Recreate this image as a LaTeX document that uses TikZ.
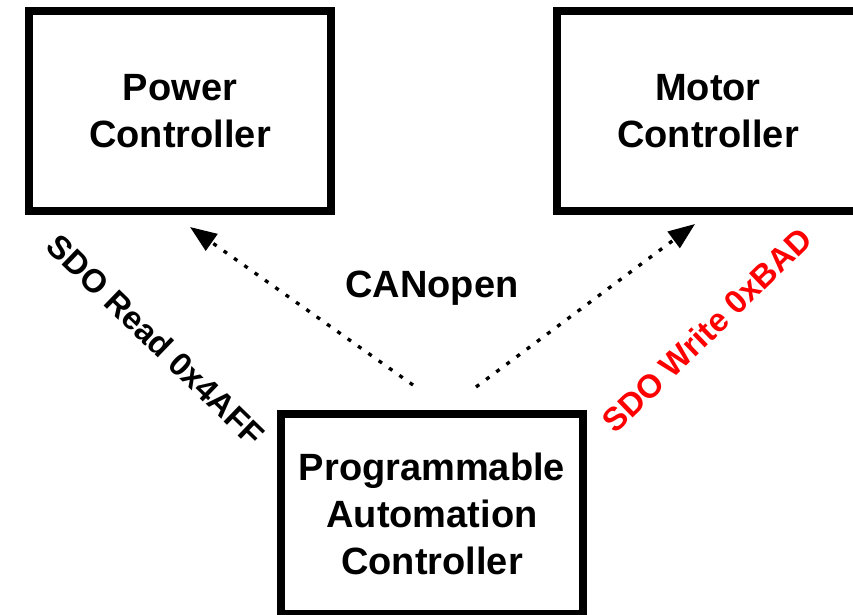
\documentclass[tikz,border=0pt]{standalone}
\usepackage{fontspec}
\setmainfont{Liberation Sans}
\usetikzlibrary{arrows.meta}
\begin{document}
\begin{tikzpicture}[x=0.75pt,y=-0.75pt,
  box/.style={draw=black,line width=6pt,minimum width=226.5pt,minimum height=150pt,
    align=center,inner sep=0pt,font=\fontsize{28.5}{35.25}\selectfont\bfseries},
  link/.style={draw=black,line width=2.5pt,dash pattern=on 3pt off 6.5pt,
    -{Triangle[length=20pt,width=15pt]}},
  lbl/.style={font=\fontsize{24.5}{29}\selectfont\bfseries,inner sep=0pt}]
\useasboundingbox (0,0) rectangle (853,614);
\clip (0,0) rectangle (853,614);
\node[box] (pc) at (180,111) {Power\\Controller};
\node[box] (mc) at (708,111) {Motor\\Controller};
\node[box] (pac) at (432,514) {Programmable\\Automation\\Controller};
\coordinate (l0) at (413,385);
\coordinate (l1) at (190,227);
\coordinate (r0) at (476,387);
\coordinate (r1) at (695,224);
\draw[link] (l0) -- (l1);
\draw[link] (r0) -- (r1);
\node[font=\fontsize{28.5}{34}\selectfont\bfseries] (can) at (432,288) {CANopen};
\node[lbl,rotate=-44] (rd) at (156,340) {SDO Read 0x4AFF};
\node[lbl,rotate=44,text=red] (wr) at (707,330) {SDO Write 0xBAD};
\end{tikzpicture}
\end{document}
